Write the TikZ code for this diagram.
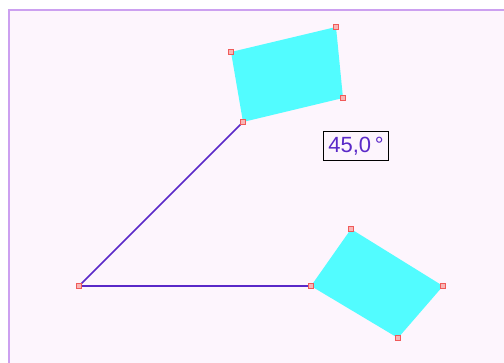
\documentclass[tikz,border=0pt]{standalone}
\usepackage{fontspec}
\setmainfont{Liberation Sans}
\usepackage{tikz}
\usetikzlibrary{positioning}
\definecolor{paper}{RGB}{253,245,253}
\definecolor{frame}{RGB}{204,160,240}
\definecolor{arm}{RGB}{90,40,200}
\definecolor{plate}{RGB}{82,252,255}
\definecolor{grip}{RGB}{240,90,90}
\tikzset{
  handle/.style={draw=grip,fill=grip!45,line width=0.6pt,inner sep=0,minimum size=2.8pt},
  armline/.style={arm,line width=0.8pt},
  readout/.style={draw=black,line width=0.7pt,text=arm,font=\fontsize{11}{12}\selectfont,inner xsep=2.4pt,inner ysep=2.6pt}
}
\begin{document}
\begin{tikzpicture}[x=0.5pt,y=-0.5pt]
\useasboundingbox (0,0) rectangle (504,363);
\fill[white] (0,0) rectangle (504,363);
\fill[paper] (9,10) rectangle (504,363);
\draw[frame,line width=1.2pt] (9,363)--(9,10)--(504,10);
\coordinate (vertex) at (79,286);
\coordinate (ua) at (243,122);
\coordinate (ub) at (231,52);
\coordinate (uc) at (336,27);
\coordinate (ud) at (343,98);
\coordinate (la) at (311,286);
\coordinate (lb) at (351,229);
\coordinate (lc) at (443,286);
\coordinate (ld) at (398,338);
\fill[plate] (ua)--(ub)--(uc)--(ud)--cycle;
\fill[plate] (la)--(lb)--(lc)--(ld)--cycle;
\draw[armline] (vertex)--(ua);
\draw[armline] (vertex)--(la);
\foreach \c in {vertex,ua,ub,uc,ud,la,lb,lc,ld}
  \node[handle] at (\c) {};
\node[readout] (angle) at (356,146) {45,0\,°};
\end{tikzpicture}
\end{document}
